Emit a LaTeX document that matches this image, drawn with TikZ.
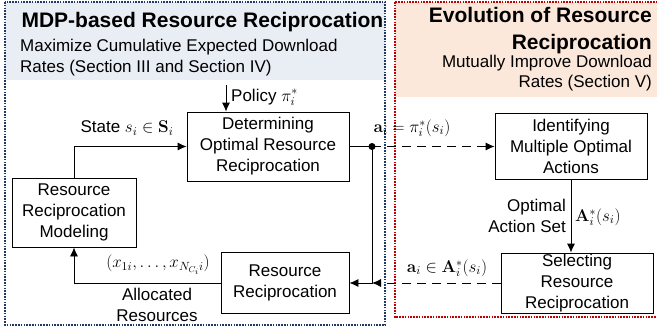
\documentclass[tikz,border=0pt]{standalone}
\usepackage{fix-cm}
\usepackage[no-math]{fontspec}
\setmainfont{Liberation Sans}
\usetikzlibrary{arrows.meta}
\definecolor{mdpblue}{HTML}{1F3864}
\definecolor{mdpfill}{HTML}{E9EEF5}
\definecolor{evored}{HTML}{C00000}
\definecolor{evofill}{HTML}{FCE8DA}
\begin{document}
\begin{tikzpicture}[x=1pt,y=-1pt,
    font=\fontsize{17}{21}\selectfont,
    blk/.style={draw, line width=0.8pt, align=center, inner sep=0pt},
    arr/.style={line width=0.8pt, -{Latex[length=9pt,width=8pt]}},
    dsh/.style={dash pattern=on 9pt off 6pt},
    frame/.style={line width=1.6pt, dash pattern=on 1.6pt off 1.2pt}]
    \useasboundingbox (0,0) rectangle (657,332);

    % panels
    \fill[mdpfill] (5,2) rectangle (385,80);
    \fill[evofill] (395,2) rectangle (662,97);
    \draw[frame, mdpblue] (5,2) rectangle (385,325);
    \draw[frame, evored] (395,2) rectangle (662,317);

    \node[anchor=west, font=\fontsize{21}{24}\selectfont\bfseries] (ttl) at (18,22) {MDP-based Resource Reciprocation};
    \node[anchor=north west, align=left, inner sep=0pt] (sub) at (20,39) {Maximize Cumulative Expected Download\\Rates (Section III and Section IV)};
    \node[anchor=north east, align=right, inner sep=0pt, font=\fontsize{21}{27}\selectfont\bfseries] (ttr) at (652,7) {Evolution of Resource\\Reciprocation};
    \node[anchor=north east, align=right, inner sep=0pt, font=\fontsize{17}{20}\selectfont] (sur) at (652,55) {Mutually Improve Download\\Rates (Section V)};

    % boxes
    \node[blk, minimum width=162, minimum height=69] (det) at (268,146.5) {Determining\\Optimal Resource\\Reciprocation};
    \node[blk, minimum width=124, minimum height=69] (mod) at (74,212.5) {Resource\\Reciprocation\\Modeling};
    \node[blk, minimum width=128, minimum height=61] (rr) at (285,283) {Resource\\Reciprocation};
    \node[blk, minimum width=152, minimum height=66] (ident) at (571,146.5) {Identifying\\Multiple Optimal\\Actions};
    \node[blk, minimum width=152, minimum height=60] (sel) at (577,283) {Selecting\\Resource\\Reciprocation};

    \coordinate (pol) at (226,85);
    \coordinate (dot) at (372,146.5);

    % connectors
    \draw[arr] (pol) -- (pol |- det.north);
    \draw[arr] (mod.north) |- (det.west);
    \draw[line width=0.8pt] (det.east) -- (dot);
    \fill (dot) circle (3.5);
    \draw[arr] (dot) |- (rr.east);
    \draw[arr, dsh] (dot) -- (ident.west);
    \draw[arr] (ident.south) -- (ident.south |- sel.north);
    \draw[arr, dsh] (sel.west) -- (sel.west -| dot);
    \draw[arr] (rr.west) -| (mod.south);

    % labels
    \node[anchor=west, inner sep=0pt] (lpol) at (231,97) {Policy $\pi_i^*$};
    \node[inner sep=0pt] (lst) at (127,128) {State $s_i\in\mathbf{S}_i$};
    \node[inner sep=0pt] (lai) at (412,128) {$\mathbf{a}_i=\pi_i^*(s_i)$};
    \node[anchor=east, align=right, inner sep=0pt] (lset) at (566,216) {Optimal\\Action Set};
    \node[anchor=west, inner sep=0pt] (lA) at (575,217) {$\mathbf{A}_i^*(s_i)$};
    \node[inner sep=0pt] (lsel) at (447,268) {$\mathbf{a}_i\in\mathbf{A}_i^*(s_i)$};
    \node[inner sep=0pt] (lx) at (158,265) {$(x_{1i},\ldots,x_{N_{C_i}i})$};
    \node[align=center, inner sep=0pt] (lalloc) at (157,304.5) {Allocated\\Resources};
\end{tikzpicture}
\end{document}
